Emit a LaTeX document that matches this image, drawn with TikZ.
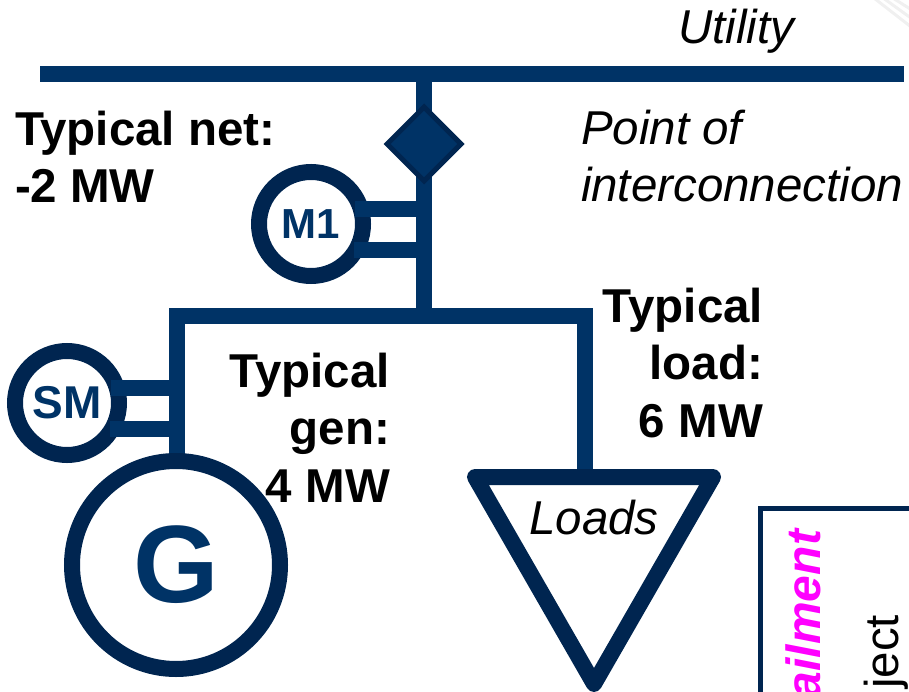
\documentclass[tikz,border=0pt]{standalone}
\usepackage{xcolor}
\usepackage{fontspec}
\setmainfont{Liberation Sans}
\usetikzlibrary{shapes, calc}
\definecolor{busblue}{HTML}{003366}
\definecolor{ringblue}{HTML}{002550}
\definecolor{curtpink}{RGB}{255,0,255}
\tikzstyle{bus}=[line width=16pt, busblue]
\tikzstyle{ring}=[shape=circle, draw=ringblue, line width=16pt, fill=white, inner sep=0, text=busblue, font=\bfseries]
\tikzstyle{meter}=[shape=diamond, draw=ringblue, line width=5pt, fill=busblue, inner sep=0, minimum size=76pt]
\tikzstyle{tag}=[inner sep=0, outer sep=0, font=\fontsize{47.5}{57.5}\selectfont]
\newcommand{\LDbold}{\fontsize{47.5}{57.5}\selectfont\bfseries}
\newcommand{\LDstub}[2]{\draw[bus] (#1)--(#2);}
\begin{document}
\begin{tikzpicture}[x=1pt,y=-1pt]
\path[use as bounding box, clip] (0,0) rectangle (909,692);
\foreach \i in {0,9,18} \draw[line width=3pt, black!6] (870+\i,-5)--(915,30-\i);
\coordinate (busL) at (40,74);
\coordinate (busR) at (904,74);
\coordinate (busM) at (424,74);
\coordinate (feedM) at (424,316);
\coordinate (feedL) at (169,316);
\coordinate (feedR) at (593,316);
\coordinate (genT) at (177,316);
\coordinate (loadT) at (585,316);
\coordinate (loadA) at (475,477);
\coordinate (loadB) at (713,477);
\coordinate (loadC) at (594,684);
\draw[bus] (busL)--(busR);
\draw[bus] (busM)--(feedM);
\draw[bus] (feedL)--(feedR);
\draw[bus] (genT)--(177,460);
\draw[bus] (loadT)--(585,477);
\node[meter] (meter) at (424,144) {};
\node[ring, minimum size=104pt, font=\fontsize{42}{42}\selectfont\bfseries] (m1) at (311,224) {\raisebox{-2pt}{M1}};
\node[ring, minimum size=104pt, font=\fontsize{46}{46}\selectfont\bfseries] (sm) at (67,403) {SM};
\node[ring, minimum size=208pt, font=\fontsize{110}{110}\selectfont\bfseries] (g) at (176,565) {\raisebox{-3pt}{G}};
\coordinate (m1a) at (355,209);
\coordinate (m1b) at (354,250);
\coordinate (sma) at (111,388);
\coordinate (smb) at (110,429);
\LDstub{m1a}{424,209}
\LDstub{m1b}{424,250}
\LDstub{sma}{177,388}
\LDstub{smb}{177,429}
\draw[line width=16pt, ringblue, line join=round] (loadA)--(loadB)--(loadC)--cycle;
\node[tag, anchor=base west] (utility) at (678,44) {\itshape Utility};
\node[tag, anchor=north west, align=left] (poi) at (581,110) {\itshape Point of\\\itshape interconnection};
\node[tag, anchor=north west, align=left] (net) at (15,111) {\LDbold Typical net:\\\LDbold -2 MW};
\node[tag, anchor=north east, align=right] (load) at (763,288) {\LDbold Typical\\\LDbold load:\\\LDbold 6 MW};
\node[tag, anchor=north east, align=right] (gen) at (390,353) {\LDbold Typical\\\LDbold gen:\\\LDbold 4 MW};
\node[tag, anchor=base] (loads) at (594,534) {\itshape Loads};
\draw[line width=5pt, ringblue] (760,700)--(760,508)--(915,508);
\node[tag, anchor=base east, rotate=90, text=curtpink, font=\fontsize{48}{48}\selectfont\bfseries\itshape] (curt) at (820,530) {ailment};
\node[tag, anchor=base east, rotate=90] (proj) at (898,615) {ject};
\end{tikzpicture}
\end{document}
